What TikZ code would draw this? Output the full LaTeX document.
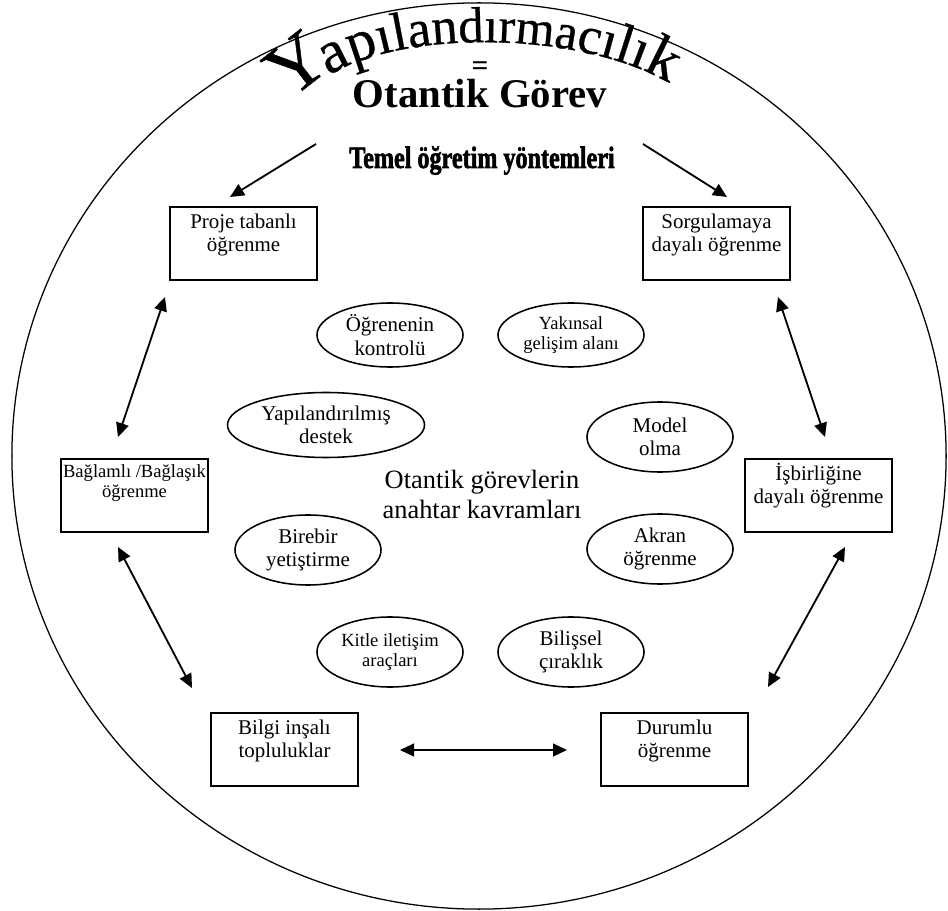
\documentclass[tikz,border=0pt]{standalone}
\usepackage{fontspec}
\setmainfont{Liberation Serif}
\newfontfamily\temelfont[FakeStretch=0.78,FakeBold=1.8]{Liberation Serif}
\newfontfamily\titlefont[FakeBold=0.6]{Liberation Serif}
\usetikzlibrary{arrows.meta, positioning, shapes.geometric, decorations.text}

\newcommand\tsz[1]{\titlefont\fontsize{#1}{#1}\selectfont}

\begin{document}
\begin{tikzpicture}[
    x=0.025cm, y=-0.025cm,
    box/.style={draw, line width=1.2pt, minimum width=3.675cm, inner xsep=0pt, inner ysep=0.125cm, align=center, font=\fontsize{14.9}{16.7}\selectfont, text height=0.9875cm, text depth=0.5875cm},
    concept/.style={draw, ellipse, line width=1.1pt, minimum width=3.65cm, minimum height=1.75cm, inner sep=0pt, align=center, font=\fontsize{14.9}{16.7}\selectfont},
    smalltext/.style={font=\fontsize{13.2}{14.2}\selectfont},
    arrow/.style={-{Triangle[length=0.35cm, width=0.32cm]}, line width=1.3pt},
    twoway/.style={{Triangle[length=0.35cm, width=0.32cm]}-{Triangle[length=0.35cm, width=0.32cm]}, line width=1.3pt}
]
\useasboundingbox (0,0) rectangle (948,911);

% outer circle
\draw[line width=0.9pt] (479,456) ellipse [x radius=11.675cm, y radius=11.325cm];

% arched title
\node[font=\tsz{54}, rotate=38, inner sep=0pt] (harfY) at (296,64) {Y};
\path[decorate, decoration={text along path, text align=center,
    text={|\tsz{43}|a|\tsz{41}|p|\tsz{39.5}|ı|\tsz{38.5}|l|\tsz{37.5}|a|\tsz{37}|n|\tsz{36}|d|\tsz{35.5}|ı|\tsz{35.5}|r|\tsz{35.5}|m|\tsz{36}|a|\tsz{37.5}|c|\tsz{38.5}|ı|\tsz{39.5}|l|\tsz{40.5}|ı|\tsz{43}|k}}]
    (316,85) .. controls (388,24) and (600,30) .. (682,92);

\node[font=\bfseries\fontsize{21}{21}\selectfont] (esit) at (480,69) {=};
\node[font=\bfseries\fontsize{29}{30}\selectfont, anchor=base] (gorev) at (480,108) {Otantik Görev};
\node[font=\temelfont\bfseries\fontsize{22}{24}\selectfont, anchor=base] (temel) at (482,168) {Temel öğretim yöntemleri};

% methods
\node[box] (proje) at (243.5,243.5) {Proje tabanlı\\öğrenme};
\node[box] (sorgu) at (716.5,243.5) {Sorgulamaya\\dayalı öğrenme};
\node[box, smalltext, text height=0.83cm, text depth=0.745cm] (baglamli) at (134.5,495.5) {Bağlamlı /Bağlaşık\\öğrenme};
\node[box] (isbirligi) at (818.5,495.5) {İşbirliğine\\dayalı öğrenme};
\node[box] (bilgi) at (284.5,749.5) {Bilgi inşalı\\topluluklar};
\node[box] (durumlu) at (674.5,749.5) {Durumlu\\öğrenme};

% key concepts
\node[concept, minimum height=1.6cm] (kontrol) at (390,335) {Öğrenenin\\kontrolü};
\node[concept, smalltext, minimum height=1.6cm] (yakinsal) at (571,335) {Yakınsal\\gelişim alanı};
\node[concept, minimum width=4.925cm, minimum height=1.625cm] (destek) at (326,425) {Yapılandırılmış\\destek};
\node[concept] (model) at (660,437) {Model\\olma};
\node[font=\fontsize{18.8}{21.3}\selectfont, align=center] (anahtar) at (482,494) {Otantik görevlerin\\anahtar kavramları};
\node[concept] (birebir) at (308,550) {Birebir\\yetiştirme};
\node[concept] (akran) at (660,549) {Akran\\öğrenme};
\node[concept, smalltext] (kitle) at (390,652) {Kitle iletişim\\araçları};
\node[concept] (bilissel) at (571,652) {Bilişsel\\çıraklık};

% arrow ends
\coordinate (temel-l) at (316,144);
\coordinate (proje-in) at (230,197);
\coordinate (temel-r) at (643,144);
\coordinate (sorgu-in) at (727,197);
\coordinate (proje-b) at (165,297);
\coordinate (baglamli-t) at (118,437);
\coordinate (baglamli-b) at (118,547);
\coordinate (bilgi-t) at (192,688);
\coordinate (sorgu-b) at (778,297);
\coordinate (isbirligi-t) at (825,437);
\coordinate (isbirligi-b) at (845,547);
\coordinate (durumlu-t) at (768,687);
\coordinate (bilgi-r) at (400,750);
\coordinate (durumlu-l) at (567,750);

\draw[arrow] (temel-l) -- (proje-in);
\draw[arrow] (temel-r) -- (sorgu-in);
\draw[twoway] (proje-b) -- (baglamli-t);
\draw[twoway] (baglamli-b) -- (bilgi-t);
\draw[twoway] (sorgu-b) -- (isbirligi-t);
\draw[twoway] (isbirligi-b) -- (durumlu-t);
\draw[twoway] (bilgi-r) -- (durumlu-l);

\end{tikzpicture}
\end{document}
